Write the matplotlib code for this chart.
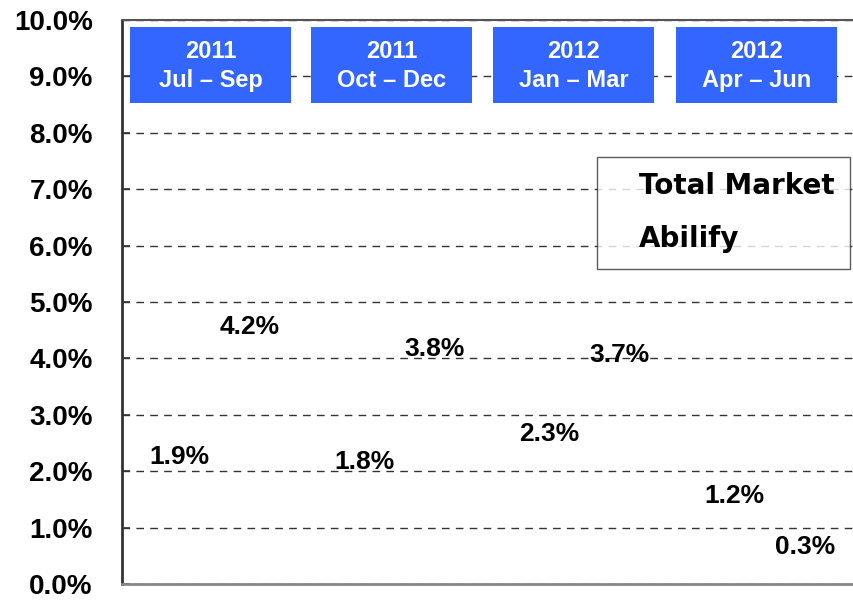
from matplotlib import pyplot as plt
from matplotlib.patches import Rectangle
import numpy as np

quarters = ["2011\nJul – Sep", "2011\nOct – Dec", "2012\nJan – Mar", "2012\nApr – Jun"]
total_market = [1.9, 1.8, 2.3, 1.2]
abilify = [4.2, 3.8, 3.7, 0.3]
yticks = np.arange(0, 11, 1)

label_font = "Liberation Sans"
legend_font = "DejaVu Sans"
box_blue = "#3366ff"

fig = plt.figure(figsize=(8.54, 6.0), dpi=100)
# plot area runs slightly past the right edge of the picture
ax = fig.add_axes([122 / 854, 16 / 600, 740 / 854, 564 / 600])

x = np.arange(len(quarters))
w = 0.36
b1 = ax.bar(x - 0.19, total_market, w, color="none", label="Total Market")
b2 = ax.bar(x + 0.19, abilify, w, color="none", label="Abilify")

for bars in (b1, b2):
    ax.bar_label(
        bars,
        labels=[f"{v:.1f}%" for v in bars.datavalues],
        padding=6,
        fontsize=19,
        fontweight="bold",
        family=label_font,
    )

ax.set_xlim(-0.5, 3.5)
ax.set_ylim(0, 10)
ax.set_yticks(yticks)
ax.set_yticklabels([f"{v:.1f}%" for v in yticks], fontsize=20, fontweight="bold", family=label_font)
ax.set_xticks([])
ax.tick_params(axis="y", direction="in", length=6, width=1.2, color="#333333", pad=21)

ax.grid(axis="y", linestyle=(0, (5.5, 4.5)), color="#333333", linewidth=1)
ax.set_axisbelow(True)

ax.spines["left"].set_color("#333333")
ax.spines["left"].set_linewidth(2)
ax.spines["top"].set_color("#555555")
ax.spines["top"].set_linewidth(1.5)
ax.spines["bottom"].set_color("#888888")
ax.spines["bottom"].set_linewidth(2)
ax.spines["right"].set_visible(False)

# quarter header boxes
box_x = [130, 311, 493, 676]
for bx, q in zip(box_x, quarters):
    x0 = (bx - 122) / 740
    y0 = (584 - 103) / 564
    bw = 161 / 740
    bh = 76 / 564
    ax.add_patch(Rectangle((x0, y0), bw, bh, transform=ax.transAxes,
                           facecolor=box_blue, edgecolor="none", zorder=3))
    ax.text(x0 + bw / 2, y0 + bh / 2 - 0.002, q, transform=ax.transAxes, ha="center", va="center",
            color="white", fontsize=17, fontweight="bold", family=label_font,
            linespacing=1.3, zorder=4)

leg = ax.legend(
    loc="upper left",
    bbox_to_anchor=((597 - 122) / 740, (584 - 157) / 564),
    borderaxespad=0,
    frameon=True,
    fancybox=False,
    edgecolor="#333333",
    prop={"family": legend_font, "size": 20, "weight": "bold"},
    labelspacing=0.9,
    handlelength=0.5,
    borderpad=0.55,
    handletextpad=0.45,
)
leg.get_frame().set_linewidth(1)

fig.savefig("out.png", dpi=100)
